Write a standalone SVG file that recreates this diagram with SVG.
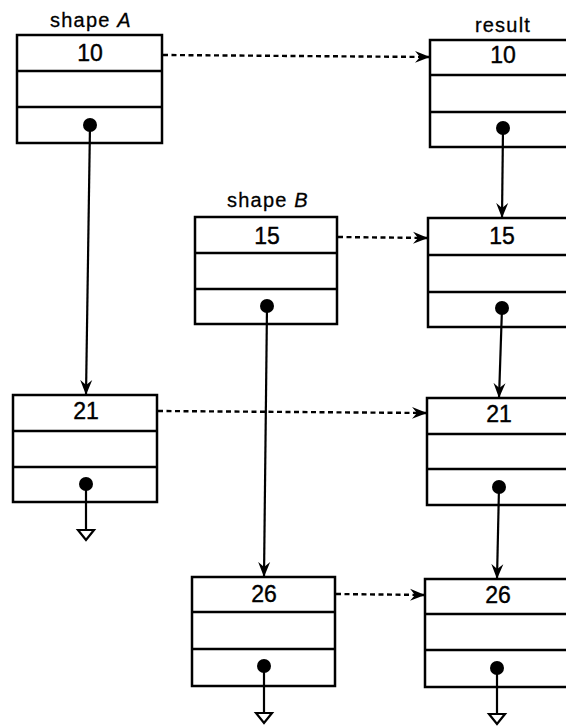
<svg xmlns="http://www.w3.org/2000/svg" width="566" height="728" viewBox="0 0 566 728">
<style>
.box{fill:#fff;stroke:#000;stroke-width:2.5}
.row{stroke:#000;stroke-width:2.3}
.num{font-family:"Liberation Sans",Arial,sans-serif;font-size:23px;text-anchor:middle;fill:#000;stroke:#000;stroke-width:0.4}
.lbl{font-family:"Liberation Sans",Arial,sans-serif;font-size:20px;text-anchor:middle;letter-spacing:1.2px;fill:#000;stroke:#000;stroke-width:0.3}
.dot{fill:#000}
.ptr{stroke:#000;stroke-width:2.2;fill:none}
.dash{stroke:#000;stroke-width:2.4;stroke-dasharray:5 3.5;fill:none}
.nil{fill:#fff;stroke:#000;stroke-width:2.2}
</style>
<defs>
<marker id="ah" markerUnits="userSpaceOnUse" markerWidth="16" markerHeight="14" refX="15" refY="7" orient="auto">
<path d="M0,1 L15,7 L0,13 L5,7 Z" fill="#000"/>
</marker>
</defs>

<g id="shapeA">
<text class="lbl" x="91" y="27">shape <tspan font-style="italic">A</tspan></text>
<rect class="box" x="17" y="35" width="145" height="108"/>
<line class="row" x1="17" y1="71" x2="162" y2="71"/>
<line class="row" x1="17" y1="107" x2="162" y2="107"/>
<text class="num" x="90" y="61">10</text>
<circle class="dot" cx="90" cy="125" r="7"/>
</g>

<g id="result10">
<text class="lbl" x="503" y="32">result</text>
<rect class="box" x="430" y="40" width="200" height="107"/>
<line class="row" x1="430" y1="75" x2="630" y2="75"/>
<line class="row" x1="430" y1="112" x2="630" y2="112"/>
<text class="num" x="503" y="63">10</text>
<circle class="dot" cx="503" cy="128" r="7"/>
</g>

<g id="shapeB">
<text class="lbl" x="268" y="207">shape <tspan font-style="italic">B</tspan></text>
<rect class="box" x="195" y="217" width="142" height="107"/>
<line class="row" x1="195" y1="253" x2="337" y2="253"/>
<line class="row" x1="195" y1="289" x2="337" y2="289"/>
<text class="num" x="267" y="244">15</text>
<circle class="dot" cx="267" cy="306" r="7"/>
</g>

<g id="result15">
<rect class="box" x="428" y="218" width="200" height="109"/>
<line class="row" x1="428" y1="255" x2="628" y2="255"/>
<line class="row" x1="428" y1="292" x2="628" y2="292"/>
<text class="num" x="502" y="244">15</text>
<circle class="dot" cx="502" cy="308" r="7"/>
</g>

<g id="node21">
<rect class="box" x="13" y="395" width="144" height="107"/>
<line class="row" x1="13" y1="431" x2="157" y2="431"/>
<line class="row" x1="13" y1="467" x2="157" y2="467"/>
<text class="num" x="86" y="419">21</text>
<circle class="dot" cx="86" cy="484" r="7"/>
</g>

<g id="result21">
<rect class="box" x="427" y="398" width="200" height="107"/>
<line class="row" x1="427" y1="434" x2="627" y2="434"/>
<line class="row" x1="427" y1="469" x2="627" y2="469"/>
<text class="num" x="499" y="422">21</text>
<circle class="dot" cx="499" cy="487" r="7"/>
</g>

<g id="node26">
<rect class="box" x="192" y="577" width="143" height="109"/>
<line class="row" x1="192" y1="612" x2="335" y2="612"/>
<line class="row" x1="192" y1="649" x2="335" y2="649"/>
<text class="num" x="264" y="602">26</text>
<circle class="dot" cx="264" cy="666" r="7"/>
</g>

<g id="result26">
<rect class="box" x="425" y="579" width="200" height="108"/>
<line class="row" x1="425" y1="614" x2="625" y2="614"/>
<line class="row" x1="425" y1="650" x2="625" y2="650"/>
<text class="num" x="498" y="603">26</text>
<circle class="dot" cx="497" cy="668" r="7"/>
</g>

<g id="connectors">
<line class="dash" x1="163" y1="55" x2="430" y2="57" marker-end="url(#ah)"/>
<line class="dash" x1="338" y1="237" x2="428" y2="238" marker-end="url(#ah)"/>
<line class="dash" x1="158" y1="411" x2="427" y2="413" marker-end="url(#ah)"/>
<line class="dash" x1="336" y1="594" x2="425" y2="595" marker-end="url(#ah)"/>
<line class="ptr" x1="90" y1="125" x2="86" y2="395" marker-end="url(#ah)"/>
<line class="ptr" x1="503" y1="128" x2="502" y2="218" marker-end="url(#ah)"/>
<line class="ptr" x1="267" y1="306" x2="264" y2="577" marker-end="url(#ah)"/>
<line class="ptr" x1="502" y1="308" x2="499" y2="398" marker-end="url(#ah)"/>
<line class="ptr" x1="499" y1="487" x2="497" y2="579" marker-end="url(#ah)"/>
<line class="ptr" x1="86" y1="484" x2="86" y2="530"/>
<polygon class="nil" points="78,530 94,530 86,540"/>
<line class="ptr" x1="264" y1="666" x2="264" y2="713"/>
<polygon class="nil" points="256,713 272,713 264,723"/>
<line class="ptr" x1="497" y1="668" x2="497" y2="714"/>
<polygon class="nil" points="489,714 505,714 497,724"/>
</g>
</svg>
